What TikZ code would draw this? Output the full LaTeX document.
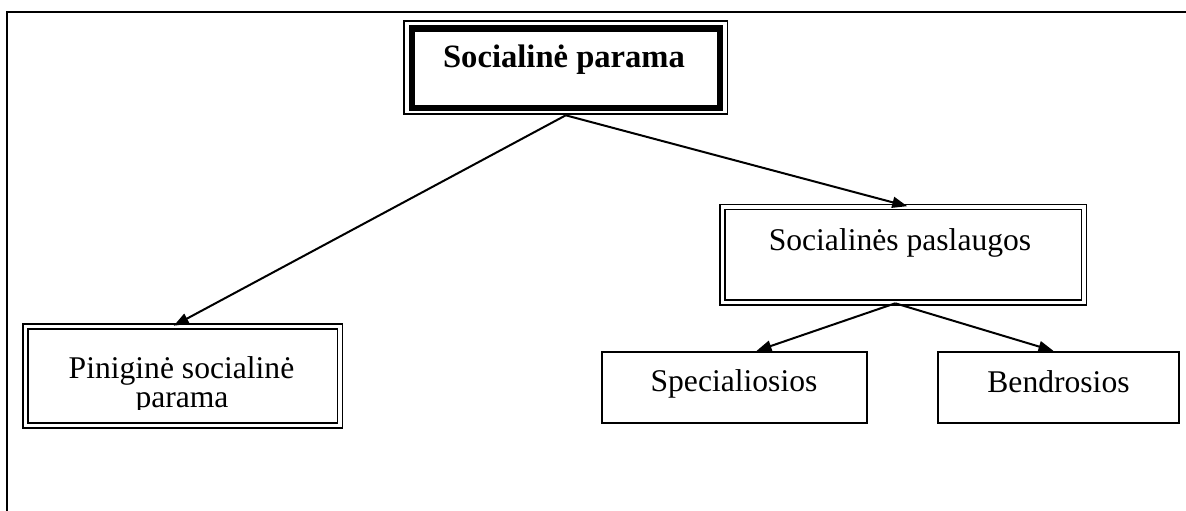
\documentclass[tikz,border=0pt]{standalone}
\usepackage{fontspec}
\setmainfont{Liberation Serif}
\usetikzlibrary{arrows.meta}
\begin{document}
\begin{tikzpicture}[x=1pt,y=-1pt,
  box/.style={draw,line width=2.2pt,inner sep=0pt,rectangle},
  dbox/.style={draw,line width=1.6pt,double,double distance=3.4pt,inner sep=0pt,rectangle},
  thickbox/.style={draw,line width=6.5pt,inner sep=0pt,rectangle},
  thinbox/.style={draw,line width=1.6pt,inner sep=0pt,rectangle},
  txt/.style={inner sep=0pt,anchor=base,font=\fontsize{31.6}{31.6}\selectfont},
  btxt/.style={inner sep=0pt,anchor=base,font=\fontsize{32.6}{32.6}\selectfont\bfseries},
  conn/.style={line width=2pt,-{Triangle[length=15pt,width=11pt]}}]
\useasboundingbox (0,0) rectangle (1186,511);
\fill[white] (0,0) rectangle (1186,511);
% outer frame (top and left only)
\coordinate (frameTR) at (1186,12);
\coordinate (frameTL) at (7,12);
\coordinate (frameBL) at (7,511);
\draw[line width=2.2pt] (frameTR) -- (frameTL) -- (frameBL);
% top box: thin outer + thick inner
\node[thinbox,minimum width=323.5pt,minimum height=93pt] (topouter) at (565.75,67.5) {};
\node[thickbox,minimum width=308pt,minimum height=79.5pt] (top) at (566,68.25) {};
\node[btxt] (toptext) at (564,68) {Socialinė parama};
% Socialines paslaugos
\node[dbox,minimum width=361.5pt,minimum height=95.5pt] (pasl) at (903.25,254.75) {};
\node[txt] (pasltext) at (900,250) {Socialinės paslaugos};
% Pinigine socialine parama
\node[dbox,minimum width=314.5pt,minimum height=99pt] (pin) at (182.75,376) {};
\node[txt] (pintext1) at (181.5,378) {Piniginė socialinė};
\begin{scope}
\clip (28,330) rectangle (338,409);
\node[txt] (pintext2) at (182,407) {parama};
\end{scope}
% Specialiosios and Bendrosios
\node[box,minimum width=265pt,minimum height=71pt] (spec) at (734.5,387.5) {};
\node[txt] (spectext) at (734,391) {Specialiosios};
\node[box,minimum width=241pt,minimum height=71pt] (bend) at (1058.5,387.5) {};
\node[txt] (bendtext) at (1058.5,392) {Bendrosios};
% connectors
\draw[conn] ([yshift=-0.5pt]topouter.south) -- ([xshift=-9pt]pin.north);
\draw[conn] ([yshift=-0.5pt]topouter.south) -- ([xshift=4pt]pasl.north);
\draw[conn] ([xshift=-8pt]pasl.south) -- ([xshift=22pt]spec.north);
\draw[conn] ([xshift=-8pt]pasl.south) -- ([xshift=-5pt]bend.north);
\end{tikzpicture}
\end{document}
